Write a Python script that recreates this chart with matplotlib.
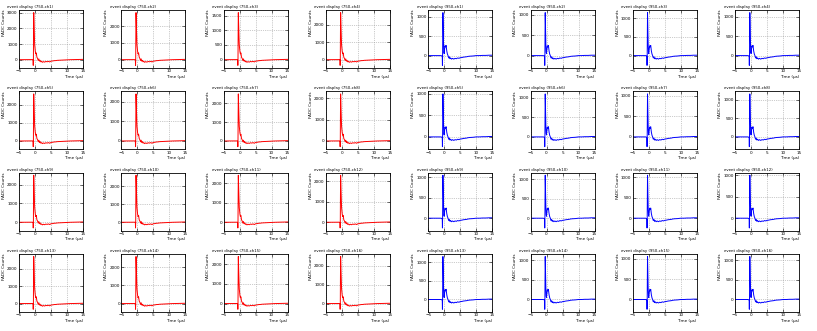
import matplotlib.pyplot as plt
from matplotlib.ticker import MultipleLocator
import numpy as np

# sample times (us) and reference pulse shapes
t_pts = [-5, -1, -0.7, -0.6, -0.55, -0.5, -0.45, -0.4, -0.3, -0.2, -0.1, 0.0,
         0.1, 0.25, 0.4, 0.6, 0.8, 1.0, 1.2, 1.4, 1.6, 1.8, 2.0, 2.3, 2.6,
         3.0, 3.4, 3.8, 4.2, 4.6, 5.0, 5.5, 6.0, 6.5, 7.0, 7.5, 8.0, 9.0,
         10.0, 11.0, 12.0, 13.0, 14.0, 15.0]

red_shape = [0, 5, 0, -20, -350, 0, 1700, 2900, 2200, 1500, 900, 700,
             500, 350, 420, 150, 80, -50, 50, -90, -40, -130, -100, -160, -120,
             -150, -110, -130, -100, -140, -90, -80, -60, -55, -40, -35, -30, -20,
             -10, 0, 5, 10, 15, 20]
blue_shape = [0, 0, -10, -30, -250, 0, 600, 1100, 700, 300, 80, 50,
              150, 250, 220, 260, 120, 40, 0, -60, -30, -80, -60, -90, -70,
              -90, -70, -80, -60, -70, -55, -50, -40, -35, -30, -20, -15, -10,
              0, 0, 5, 5, 10, 10]

# peak heights per channel (counts)
red_peaks = [3000, 2800, 1600, 2700,
             2600, 2400, 2500, 2200,
             2500, 2600, 2400, 2300,
             2700, 2600, 2400, 2500]
blue_peaks = [1100, 1050, 1150, 1100,
              1000, 1100, 1050, 1150,
              1050, 1100, 1050, 1000,
              1150, 1100, 1050, 1100]

fig = plt.figure(figsize=(8.17, 3.31), dpi=100)
W, H = 817.0, 331.0

t = np.array(t_pts)
for r in range(4):
    for c in range(8):
        ch = r * 4 + (c % 4) + 1
        if c < 4:
            y = np.array(red_shape) * red_peaks[ch - 1] / 2900.0
            color = "red"
            volt = 750
            step = 1000 if red_peaks[ch - 1] > 2000 else 500
        else:
            y = np.array(blue_shape) * blue_peaks[ch - 1] / 1100.0
            color = "blue"
            volt = 950
            step = 500
        left = 19 + 102.3 * c
        top = 10 + 81.3 * r
        ax = fig.add_axes([left / W, 1 - (top + 58) / H, 64 / W, 58 / H])
        ax.plot(t, y, color=color, lw=0.7)
        ax.set_xlim(-5, 15)
        ax.set_xticks([-5, 0, 5, 10, 15])
        ax.yaxis.set_major_locator(MultipleLocator(step))
        ax.grid(True, ls=":", color="#999999", lw=0.5)
        ax.tick_params(direction="in", top=True, right=True, labelsize=3,
                       length=2, width=0.4, pad=1)
        for s in ax.spines.values():
            s.set_linewidth(0.6)
        ax.set_xlabel("Time (\u03bcs)", loc="right", fontsize=3, labelpad=1)
        ax.set_ylabel("FADC Counts", loc="top", fontsize=3, labelpad=1)
        ax.set_title("event display (%d-ch%d)" % (volt, ch), loc="left",
                     fontsize=2.8, x=-0.18, pad=1.5)

fig.savefig("out.png", dpi=100)
